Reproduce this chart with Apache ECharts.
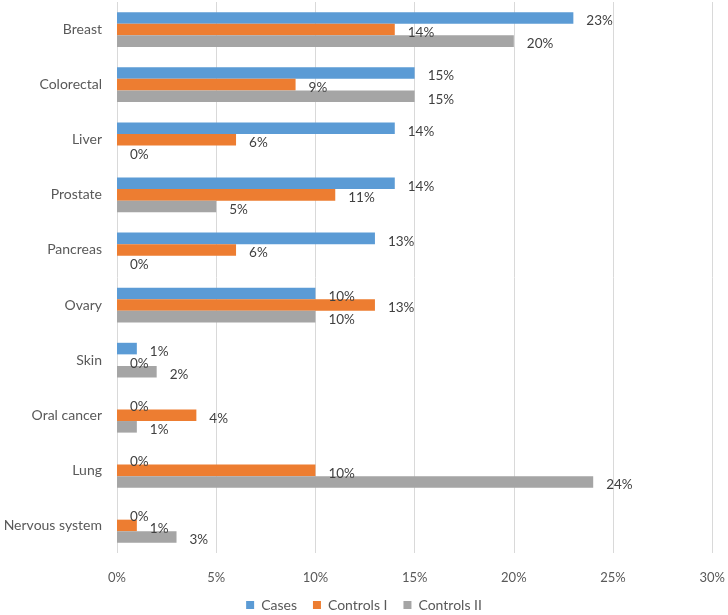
<!DOCTYPE html>
<html>
<head>
<meta charset="utf-8">
<script src="https://cdn.jsdelivr.net/npm/echarts@6/dist/echarts.min.js"></script>
<style>html,body{margin:0;padding:0;background:#fff}#c{width:728px;height:615px}</style>
</head>
<body>
<div id="c"></div>
<script>
const categories = ["Breast","Colorectal","Liver","Prostate","Pancreas","Ovary","Skin","Oral cancer","Lung","Nervous system"];
const cases = [23,15,14,14,13,10,1,0,0,0];
const controlsI = [14,9,6,11,6,13,0,4,10,1];
const controlsII = [20,15,0,5,0,10,2,1,24,3];
const xTicks = [0,5,10,15,20,25,30];
const seriesNames = ["Cases","Controls I","Controls II"];
const colors = ["#5B9BD5","#ED7D31","#A5A5A5"];

const font = "Lato, 'Open Sans', sans-serif";
const chart = echarts.init(document.getElementById('c'), null, {renderer:'canvas'});
function mk(name, data, color){
  return {
    name, type:'bar', data, barGap:'0%', barCategoryGap:'37%',
    itemStyle:{color},
    label:{show:true, position:'right', distance:13, offset:[0,3], formatter:'{c}%', color:'#404040', fontSize:13.5, fontFamily:font},
    emphasis:{disabled:true}
  };
}
chart.setOption({
  animation:false,
  color: colors,
  grid:{left:117, right:15, top:2, bottom:62, containLabel:false},
  xAxis:{type:'value', min:xTicks[0], max:xTicks[xTicks.length-1], interval:5,
    axisLine:{show:false}, axisTick:{show:false},
    splitLine:{show:true, lineStyle:{color:'#d9d9d9', width:1}},
    axisLabel:{formatter:'{value}%', color:'#595959', fontSize:13, fontFamily:font, margin:18}},
  yAxis:{type:'category', data:categories, inverse:true,
    axisLine:{show:false}, axisTick:{show:false},
    axisLabel:{color:'#595959', fontSize:14, fontFamily:font, margin:15}},
  legend:{top:598, left:'center', padding:0, icon:'rect', itemWidth:8, itemHeight:8, itemGap:16,
    textStyle:{color:'#595959', fontSize:14, fontFamily:font, padding:[0,0,0,2]}, data:seriesNames},
  series:[mk(seriesNames[0], cases, colors[0]), mk(seriesNames[1], controlsI, colors[1]), mk(seriesNames[2], controlsII, colors[2])]
});
</script>
</body>
</html>
